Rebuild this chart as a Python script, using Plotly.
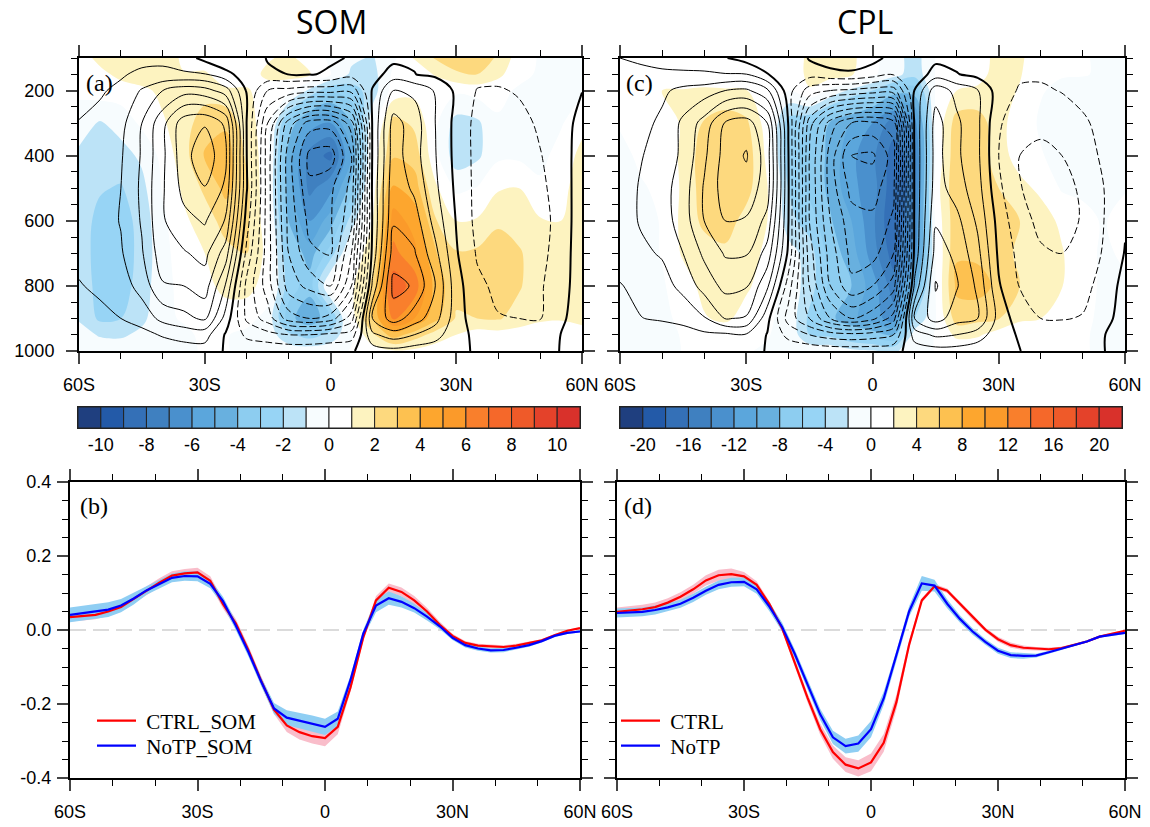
import numpy as np
import plotly.graph_objects as go

lat = list(range(-60, 61, 5))
plev = [100, 150, 200, 300, 400, 500, 600, 700, 800, 900, 950, 1000]

# each row: one latitude column, 100 hPa then 200..1000 hPa; the 150 hPa rows are kept apart
som_fill = [
 [.5,.2,-.5,-1.2,-1.4,-1.5,-1.5,-1.3,-1.1,-.6,-.3],
 [1.3,.5,-1.1,-1.6,-1.9,-2.3,-2.4,-2.4,-2.2,-1.1,-.4],
 [1.5,.5,-.6,-1.4,-2.1,-2.5,-2.5,-2.4,-2.0,-1.2,-.3],
 [1.6,.8,.2,-.8,-1.3,-1.6,-1.7,-1.6,-1.3,-.7,-.2],
 [1.6,1.2,.9,.3,.1,-.2,-.3,-.2,-.1,-.1,-.1],
 [.8,1.4,1.5,1.6,1.2,.8,.5,.2,.05,-.1,-.1],
 [.3,1.5,2.6,3.1,2.2,1.5,1.0,.6,.3,.1,.05],
 [.05,1.2,2.8,3.6,3.3,2.4,1.7,1.4,.3,.05,.05],
 [.3,1.1,1.4,1.8,2.3,2.2,2.0,1.4,.3,-.2,-.2],
 [.9,.6,.5,.4,.2,.4,.7,.5,-.3,-.4,-.2],
 [1.2,.3,-3.2,-4.5,-4.5,-4,-3,-2.5,-3.5,-1.8,-.4],
 [.6,-1.2,-5.5,-7.4,-7.3,-6,-4.5,-3.5,-5,-2.5,-.4],
 [-.2,-2.8,-6,-8.3,-6.3,-4.5,-2.5,.2,-3,-1.7,-.3],
 [-.8,-2.5,-4,-5,-3.5,-1.5,.2,.8,.5,-.1,.05],
 [-1.1,-1.5,-.4,.3,.5,1,1.6,2.2,3.1,1.8,.5],
 [-.2,.4,2.4,2.9,4.2,5.5,6.3,7.6,6.2,3.5,.9],
 [1.1,.7,1.8,2.6,3.5,4.6,5.3,6.6,5,2.5,.8],
 [2.1,.1,.2,.3,1.2,2.1,3.1,3.6,3.3,1.6,.5],
 [2.7,.2,-1.4,-1.6,-.2,1.0,2.1,2.3,1.9,1,.2],
 [2.8,.4,-1.2,-1.2,.05,1.1,2.2,2.2,2,.5,.1],
 [1.8,.2,-.1,-.2,.9,1.8,2.6,2.6,2.1,.6,.1],
 [.5,-.1,-.2,-.2,1.0,1.6,2.1,2.1,1.6,.5,.1],
 [-.1,-.1,-.2,-.3,.2,1.1,1.5,1.4,1.2,.3,.1],
 [-.1,-.1,-.1,.4,.7,1.0,1.1,1.1,1.1,.4,.1],
 [-.1,-.1,.7,1.3,1.5,1.5,1.5,1.5,1.5,.3,.1],
]
som_fill_150 = [.4,.7,1.3,1.5,1.6,1.05,1.2,.3,.6,1.2,1.3,1.1,.05,-1.2,-1.4,.2,.3,1.1,1.8,2,1.3,.2,-.1,-.1,-.1]
som_line = [
 [.1,.6,1.05,1.3,1.4,1.4,1.2,.95,.6,.4,.2],
 [.3,.9,1.25,1.5,1.6,1.6,1.5,1.15,.8,.5,.2],
 [.5,1.2,1.7,1.9,2.0,2.05,1.9,1.5,1.0,.6,.2],
 [.7,2.1,3,3.1,3.2,3.1,2.9,2.4,1.4,.7,.3],
 [.8,3,4.7,4.8,4.9,4.9,4.6,3.9,2.3,1.1,.4],
 [.4,3.6,6.6,6.6,6.3,5.7,4.9,4.0,2.7,1.4,.5],
 [-.27,3.4,6.9,7.7,6.95,6.1,5.3,4.5,3.2,1.4,.6],
 [-.8,2.5,5.8,6.2,5.8,4.9,3.5,1.9,.6,-.1,-.1],
 [-1,-.1,-.02,.02,.1,-.5,-1.3,-2.3,-2.2,-1.2,-.4],
 [.1,-2,-4,-4.5,-4.5,-4.5,-4.5,-4.5,-3.5,-1.6,-.3],
 [.2,-2.3,-7.5,-8.5,-8.5,-8.3,-8,-7.5,-5.5,-2,-.3],
 [.3,-2.6,-9.5,-11.3,-10.8,-10.3,-9.8,-8.3,-6,-2,-.3],
 [.1,-2.6,-9.6,-11.5,-10.2,-10.1,-10.1,-9,-5.5,-1.7,-.3],
 [-.05,-2.7,-7.5,-9,-8.7,-8.3,-7,-6,-3.5,-1.5,-.1],
 [-.3,.1,.1,.1,.2,.1,.3,1.2,3,1.8,.5],
 [-.3,2,3.4,3.5,3.7,3.9,4.5,5.3,4.5,2.5,.7],
 [-.1,1.8,2.5,2.4,2.8,3.5,4.1,4.9,3.5,2,.5],
 [-.4,.9,1.0,1.05,1.2,1.6,2.3,3,2.4,1.4,.4],
 [-.6,-.2,-.3,-.3,-.2,-.05,.1,.4,.4,.3,.2],
 [-.5,-1.05,-1.3,-1.3,-1.3,-1.3,-1.1,-.8,-.5,-.2,-.1],
 [-.4,-1.1,-1.4,-1.5,-1.5,-1.5,-1.4,-1.2,-.95,-.5,-.2],
 [-.3,-.9,-1.3,-1.5,-1.5,-1.5,-1.4,-1.25,-1.0,-.5,-.2],
 [-.2,-.5,-.85,-1.05,-1.2,-1.3,-1.25,-1.1,-1.05,-.5,-.2],
 [-.1,-.2,-.4,-.5,-.6,-.7,-.6,-.5,-.2,.02,.02],
 [-.1,-.02,.3,.5,.6,.7,.7,.7,.6,.5,.3],
]
som_line_150 = [.35,.6,.9,1.2,1.2,1.15,1.05,.3,-.5,-.25,.02,.05,-.1,-.6,-.5,.5,.02,-.2,-.5,-.7,-.7,-.5,-.3,-.15,-.05]
cpl_fill = [
 [.5,.5,.1,-.3,-.5,-.8,-.8,-.8,-.8,-.8,-.8],
 [.5,.5,.3,.2,-.1,-.5,-.6,-.7,-1,-1,-1],
 [.5,2.0,.3,.2,.2,.1,.1,-.2,-.5,-.8,-1],
 [.3,2.1,2.4,2.6,2.4,2.6,2.3,.9,.5,.2,.1],
 [.2,2.3,4.2,5,5,4.5,3,2.7,1.8,.3,.1],
 [.05,2.2,5.2,5.5,5.5,4.9,3.6,3,2.5,.4,.1],
 [.1,2.1,4.4,5.2,4.7,3.3,3,2.4,1,.2,.05],
 [.2,.5,1,1.5,2.1,2,1.5,.8,.2,.05,-.1],
 [.5,.05,-5,-5.5,-4,-3.3,-1,-.6,-.4,-.3,-.5],
 [2.5,1.8,-6,-6.5,-6.5,-5,-3,-3,-4.5,-4,-.5],
 [3,-.5,-8.2,-8.5,-8.5,-7.8,-7,-6.5,-7.5,-4.5,-.5],
 [2.5,-2.5,-10,-11.5,-11.5,-10,-9,-8,-9.5,-6,-1.5],
 [.5,-4,-12,-13.5,-13,-13.5,-13,-11,-11,-7,-1.8],
 [-1,-7,-15,-17,-17.5,-18,-17,-15,-13,-8,-2.5],
 [-3,-7,-13,-15,-15,-14,-13,-9,-4,-1,-.5],
 [.05,.2,.3,.1,1,.5,.05,.05,-.1,.1,.05],
 [.5,2,5,5.6,5.7,5.5,5.8,6.5,5,2.5,.5],
 [.6,2.4,5,5,4.5,4.8,5.5,7,4.5,2.3,.4],
 [3,3,2.8,3,4,4.6,5,5.4,4.1,1,.1],
 [2.5,1.8,.8,1,2.7,4,3.5,4,2.4,.4,.1],
 [.2,.1,-.2,.1,1.5,3.1,3.2,3,2,.3,.1],
 [.1,-.3,-.6,-.5,-.2,1.5,2.2,2.1,.5,.1,.05],
 [.05,-.3,-.5,-.5,-.2,.3,.2,.2,.1,.05,.05],
 [-.1,-.1,-.1,-.1,-.1,-.1,-.1,-.1,-.1,-.1,-.1],
 [-.1,-.1,-.1,-.1,-.1,.5,.1,-.1,-.1,-.1,-.1],
]
cpl_fill_150 = [.5,.5,.6,.8,.8,.6,.5,.3,.3,2.6,3,2.3,.3,-1,-3.3,.1,.4,1.2,2.9,2.2,.2,.1,.05,-.1,-.1]
cpl_line = [
 [1,1.15,1.3,1.4,1.5,1.5,1.4,.95,.5,.3,.1],
 [.9,1.4,1.7,1.95,2.1,2.1,1.8,1.25,.98,.4,.1],
 [.9,1.8,2.2,2.4,2.6,2.5,2.1,1.6,1.1,.5,.1],
 [.7,2.3,3.2,3.2,3.5,3.5,3,2.3,1.3,.6,.1],
 [.6,2.5,4.4,4.8,5.1,5,4.2,3.4,1.9,.8,.2],
 [.05,3,6.1,6.4,6.5,6.0,5.1,4.3,3.05,.8,.2],
 [-.4,3.2,6.5,7.1,6.6,5.9,5.1,4.1,2.9,.9,.3],
 [-.8,2.2,5,5.5,5.5,4.7,3.6,2.2,.3,-.05,-.05],
 [-1,-.6,-.05,.05,.1,.05,-.2,-1.5,-2.4,-1.3,-.3],
 [.1,-2.5,-5.5,-6,-6,-6,-5.5,-5,-4,-2,-.3],
 [.5,-3,-8.5,-9.5,-9.5,-9,-8.5,-8,-6,-2.5,-.4],
 [.5,-3.2,-10,-12,-11.3,-10.6,-10.3,-9.8,-7,-2.7,-.4],
 [.3,-3.5,-10.2,-12.2,-11.4,-10.8,-10.4,-9,-6.3,-2.5,-.4],
 [-.3,-3.5,-9.5,-10.5,-10.3,-9.8,-9,-7.5,-4.5,-2,-.3],
 [-1,.05,.2,.2,.2,.2,.3,1.2,3,1.5,.4],
 [-.3,2.6,3.4,3.4,3.5,3.9,4.4,5.1,4.5,2.2,.6],
 [-.3,1.7,2.2,2.2,2.5,3.3,3.8,4.1,3.4,2,.6],
 [-.6,1.05,1.2,1.2,1.4,1.8,2.3,2.8,3,1.5,.4],
 [-.8,-.5,-.9,-1.0,-.8,-.4,-.2,.1,.6,.4,.2],
 [-.7,-1.1,-1.5,-2.0,-1.95,-1.7,-1.3,-1.05,-.5,-.1,.01],
 [-.6,-1.15,-1.7,-2.3,-2.4,-2.2,-1.9,-1.4,-1,-.4,-.2],
 [-.4,-.95,-1.6,-2.0,-2.4,-2.4,-2,-1.6,-1.05,-.5,-.2],
 [-.2,-.7,-1.15,-1.5,-1.8,-1.9,-1.65,-1.25,-.95,-.4,-.15],
 [-.1,-.4,-.7,-.8,-1,-1,-.9,-.7,-.3,-.02,-.01],
 [-.01,-.2,-.3,-.4,-.3,-.1,.05,.4,.4,.3,.2],
]
cpl_line_150 = [1.1,1.15,1.05,1.1,1.1,1.05,1.02,.05,-.7,-.6,-.3,-.15,-.5,-.9,-.8,.5,.05,-.3,-.6,-.85,-.85,-.7,-.45,-.25,-.1]

lat3 = list(range(-60, 61, 3))
ctrl_som = [.035,.038,.041,.05,.062,.084,.106,.128,.147,.153,.156,.133,.07,.018,-.055,-.138,-.215,-.258,-.276,-.287,-.292,-.262,-.155,-.02,.08,.114,.103,.08,.05,.014,-.016,-.035,-.042,-.045,-.046,-.042,-.036,-.028,-.014,-.002,.005]
notp_som = [.041,.046,.05,.055,.066,.085,.107,.125,.141,.146,.145,.125,.078,.012,-.06,-.14,-.212,-.237,-.245,-.253,-.262,-.24,-.135,-.01,.066,.086,.076,.059,.036,.01,-.021,-.041,-.05,-.055,-.054,-.048,-.041,-.03,-.016,-.008,-.004]
ctrl_cpl = [.049,.052,.056,.062,.074,.09,.11,.134,.148,.151,.145,.122,.07,.005,-.088,-.183,-.268,-.33,-.364,-.374,-.358,-.305,-.195,-.04,.08,.118,.106,.071,.034,.001,-.025,-.041,-.048,-.051,-.052,-.049,-.041,-.031,-.018,-.009,-.002]
notp_cpl = [.046,.047,.049,.054,.061,.071,.087,.106,.122,.129,.13,.11,.063,.008,-.065,-.147,-.228,-.29,-.314,-.307,-.268,-.185,-.07,.05,.126,.12,.071,.03,-.004,-.032,-.056,-.068,-.07,-.069,-.06,-.05,-.041,-.031,-.018,-.012,-.008]
ctrl_som_sd = [.012,.012,.012,.012,.012,.012,.012,.012,.012,.012,.012,.012,.012,.012,.012,.012,.012,.018,.02,.02,.022,.02,.012,.01,.012,.012,.012,.012,.01,.008,.006,.005,.005,.005,.005,.005,.004,.003,.003,.003,.002]
notp_som_sd = [.02,.02,.02,.02,.018,.016,.012,.012,.012,.013,.013,.012,.012,.012,.012,.012,.015,.02,.022,.022,.022,.02,.012,.01,.018,.018,.015,.012,.01,.008,.006,.006,.006,.006,.006,.005,.004,.004,.003,.003,.003]
ctrl_cpl_sd = [.012,.012,.012,.012,.012,.012,.012,.014,.015,.015,.012,.01,.008,.008,.01,.012,.015,.018,.02,.022,.024,.024,.02,.012,.006,.006,.006,.006,.006,.006,.007,.007,.006,.005,.005,.004,.003,.003,.003,.003,.003]
notp_cpl_sd = [.012,.012,.012,.012,.011,.011,.011,.011,.012,.012,.012,.012,.012,.012,.012,.014,.015,.018,.02,.022,.022,.018,.014,.014,.02,.016,.012,.01,.009,.008,.008,.008,.008,.005,.004,.004,.004,.003,.003,.003,.003]

band_colors = ["#1f3f7f","#235aa8","#3470b7","#3f80c0","#4a90cd","#5ba6dc","#68b0df","#8dcdf0","#97d4f5","#bce3f7","#f7fcfe",
               "#ffffff","#fdf3c0","#fdd97e","#fdc150","#fda62e","#fb9a2a","#f97f2c","#f5682a","#ef5a29","#e4422a","#d9312b"]
x_ticks = [-60, -30, 0, 30, 60]
x_text = ["60S", "30S", "0", "30N", "60N"]
p_ticks = [200, 400, 600, 800, 1000]
psi_ticks = [-.4, -.2, 0, .2, .4]
psi_text = ["-0.4", "-0.2", "0.0", "0.2", "0.4"]

W, H = 1150, 827
def dx(a, b): return [a / W, b / W]
def dy(top, bot): return [1 - bot / H, 1 - top / H]

n = len(band_colors)
scale = [[0, band_colors[0]]]
for i, c in enumerate(band_colors):
    scale.append([(i + 1) / (n + 1), c])
scale.append([1, band_colors[-1]])

TICK = "Liberation Sans"
SERIF = "Liberation Serif"
fig = go.Figure()

def grid(cols, row150):
    return np.insert(np.array(cols), 1, row150, axis=1).T

def add_panel(fill, fill150, line, line150, xa, ya, step):
    zf = grid(fill, fill150)
    zl = grid(line, line150)
    fig.add_trace(go.Contour(x=lat, y=plev, z=zf, xaxis=xa, yaxis=ya, showscale=False, hoverinfo="skip",
        colorscale=scale, autocontour=False, showlegend=False,
        contours=dict(start=-11 * step, end=11 * step, size=step, coloring="fill", showlines=False),
        line=dict(width=0, smoothing=1)))
    fig.add_trace(go.Contour(x=lat, y=plev, z=zl, xaxis=xa, yaxis=ya, showscale=False, hoverinfo="skip",
        autocontour=False, showlegend=False, contours=dict(start=1, end=10, size=1, coloring="none"),
        line=dict(color="black", width=1, smoothing=.9)))
    fig.add_trace(go.Contour(x=lat, y=plev, z=zl, xaxis=xa, yaxis=ya, showscale=False, hoverinfo="skip",
        autocontour=False, showlegend=False, contours=dict(start=-20, end=-1, size=1, coloring="none"),
        line=dict(color="black", width=1, dash="7px,3px", smoothing=.9)))
    fig.add_trace(go.Contour(x=lat, y=plev, z=zl, xaxis=xa, yaxis=ya, showscale=False, hoverinfo="skip",
        autocontour=False, showlegend=False, contours=dict(start=0, end=0, size=1, coloring="none"),
        line=dict(color="black", width=2, smoothing=.9)))

add_panel(som_fill, som_fill_150, som_line, som_line_150, "x", "y", 1)
add_panel(cpl_fill, cpl_fill_150, cpl_line, cpl_line_150, "x2", "y2", 2)

def add_cbar(xa, ya, step):
    lows = [(i - 11) * step for i in range(n)]
    fig.add_trace(go.Bar(x=[step] * n, base=lows, y=[0] * n, orientation="h", width=1, xaxis=xa, yaxis=ya,
        marker=dict(color=band_colors, line=dict(color="#222222", width=1)), showlegend=False, hoverinfo="skip"))

add_cbar("x3", "y3", 1)
add_cbar("x4", "y4", 2)

def add_lines(xa, ya, c, csd, b, bsd, names, lgs):
    fig.add_trace(go.Scatter(x=[-60, 60], y=[0, 0], xaxis=xa, yaxis=ya, mode="lines", showlegend=False, hoverinfo="skip",
        line=dict(color="#cfcfcf", width=1.5, dash="16px,7px")))
    for m, sd, col in ((c, csd, "#f9bdca"), (b, bsd, "#8fcef3")):
        up = [v + s for v, s in zip(m, sd)]
        lo = [v - s for v, s in zip(m, sd)]
        fig.add_trace(go.Scatter(x=lat3 + lat3[::-1], y=up + lo[::-1], xaxis=xa, yaxis=ya, mode="lines", fill="toself",
            fillcolor=col, line=dict(width=0), showlegend=False, hoverinfo="skip"))
    for m, col, nm, lg in ((c, "#ff0000", names[0], lgs[0]), (b, "#0000ff", names[1], lgs[1])):
        fig.add_trace(go.Scatter(x=lat3, y=m, xaxis=xa, yaxis=ya, mode="lines", name="\u00a0" + nm, legend=lg,
            line=dict(color=col, width=2.2)))

add_lines("x5", "y5", ctrl_som, ctrl_som_sd, notp_som, notp_som_sd, ("CTRL_SOM", "NoTP_SOM"), ("legend", "legend2"))
add_lines("x6", "y6", ctrl_cpl, ctrl_cpl_sd, notp_cpl, notp_cpl_sd, ("CTRL", "NoTP"), ("legend3", "legend4"))

def xax(dom, standoff=0):
    return dict(domain=dom, automargin=False, range=[-60, 60], tickmode="array", tickvals=x_ticks, ticktext=x_text, ticks="outside", ticklen=11,
        tickwidth=1.5, linecolor="black", linewidth=2, mirror="ticks", showgrid=False, zeroline=False, ticklabelstandoff=standoff,
        tickfont=dict(family=TICK, size=18, color="black"),
        minor=dict(tickmode="linear", dtick=10, ticks="outside", ticklen=6, tickwidth=1, tickcolor="black", showgrid=False))

def yax(dom, xanchor, rng, vals, text, minor, show, standoff=0):
    return dict(domain=dom, automargin=False, anchor=xanchor, range=rng, tickmode="array", tickvals=vals, ticktext=text, ticks="outside", ticklen=11,
        tickwidth=1.5, linecolor="black", linewidth=2, mirror="ticks", showgrid=False, zeroline=False, showticklabels=show,
        ticklabelstandoff=standoff, tickfont=dict(family=TICK, size=18, color="black"),
        minor=dict(tickmode="linear", dtick=minor, ticks="outside", ticklen=6, tickwidth=1, tickcolor="black", showgrid=False))

def cbx(dom, rng, vals):
    return dict(domain=dom, automargin=False, range=rng, tickmode="array", tickvals=vals, ticktext=[str(v) for v in vals], ticks="",
        showline=True, linecolor="#222222", linewidth=1, mirror=True, showgrid=False, zeroline=False,
        tickfont=dict(family=TICK, size=18, color="black"))

def cby(dom, xanchor):
    return dict(domain=dom, automargin=False, anchor=xanchor, range=[-.5, .5], showticklabels=False, ticks="", showgrid=False, zeroline=False,
        showline=True, linecolor="#222222", linewidth=1, mirror=True)

def lg(px, py):
    return dict(x=px / W, y=1 - py / H, xanchor="left", yanchor="middle", bgcolor="rgba(0,0,0,0)", itemwidth=39,
                font=dict(family=SERIF, size=21, color="black"))

def note(text, px, py, size, family, anchor="left"):
    return dict(text=text, x=px / W, y=1 - py / H, xref="paper", yref="paper", xanchor=anchor, yanchor="middle", showarrow=False,
                font=dict(family=family, size=size, color="black"))

p_text = [str(v) for v in p_ticks]
fig.update_layout(
    width=W, height=H, margin=dict(l=0, r=0, t=0, b=0, autoexpand=False), paper_bgcolor="white", plot_bgcolor="white",
    barmode="overlay", showlegend=True,
    xaxis=dict(xax(dx(79, 582), 5), anchor="y"),
    yaxis=yax(dy(58, 351), "x", [1000, 100], p_ticks, p_text, 50, True, 8),
    xaxis2=dict(xax(dx(620, 1125), 5), anchor="y2"),
    yaxis2=yax(dy(58, 351), "x2", [1000, 100], p_ticks, p_text, 50, False),
    xaxis3=dict(cbx(dx(78, 580), [-11, 11], list(range(-10, 11, 2))), anchor="y3"),
    yaxis3=cby(dy(407, 428), "x3"),
    xaxis4=dict(cbx(dx(620, 1122), [-22, 22], list(range(-20, 21, 4))), anchor="y4"),
    yaxis4=cby(dy(407, 428), "x4"),
    xaxis5=dict(xax(dx(70, 580), 5), anchor="y5"),
    yaxis5=yax(dy(482, 778), "x5", [-.4, .4], psi_ticks, psi_text, .05, True, 2),
    xaxis6=dict(xax(dx(617, 1125), 5), anchor="y6"),
    yaxis6=yax(dy(482, 778), "x6", [-.4, .4], psi_ticks, psi_text, .05, False),
    legend=lg(92, 721), legend2=lg(92, 746), legend3=lg(616, 721), legend4=lg(616, 746),
    annotations=[
        note("SOM", 331, 22, 32, "Open Sans", "center"),
        note("CPL", 865, 22, 32, "Open Sans", "center"),
        note("(a)", 84, 83, 24, SERIF),
        note("(c)", 624, 83, 24, SERIF),
        note("(b)", 78, 506, 24, SERIF),
        note("(d)", 622, 506, 24, SERIF),
    ],
)
fig.write_html("out.html", post_script="document.body.style.margin='0';", config={"displayModeBar": False})
